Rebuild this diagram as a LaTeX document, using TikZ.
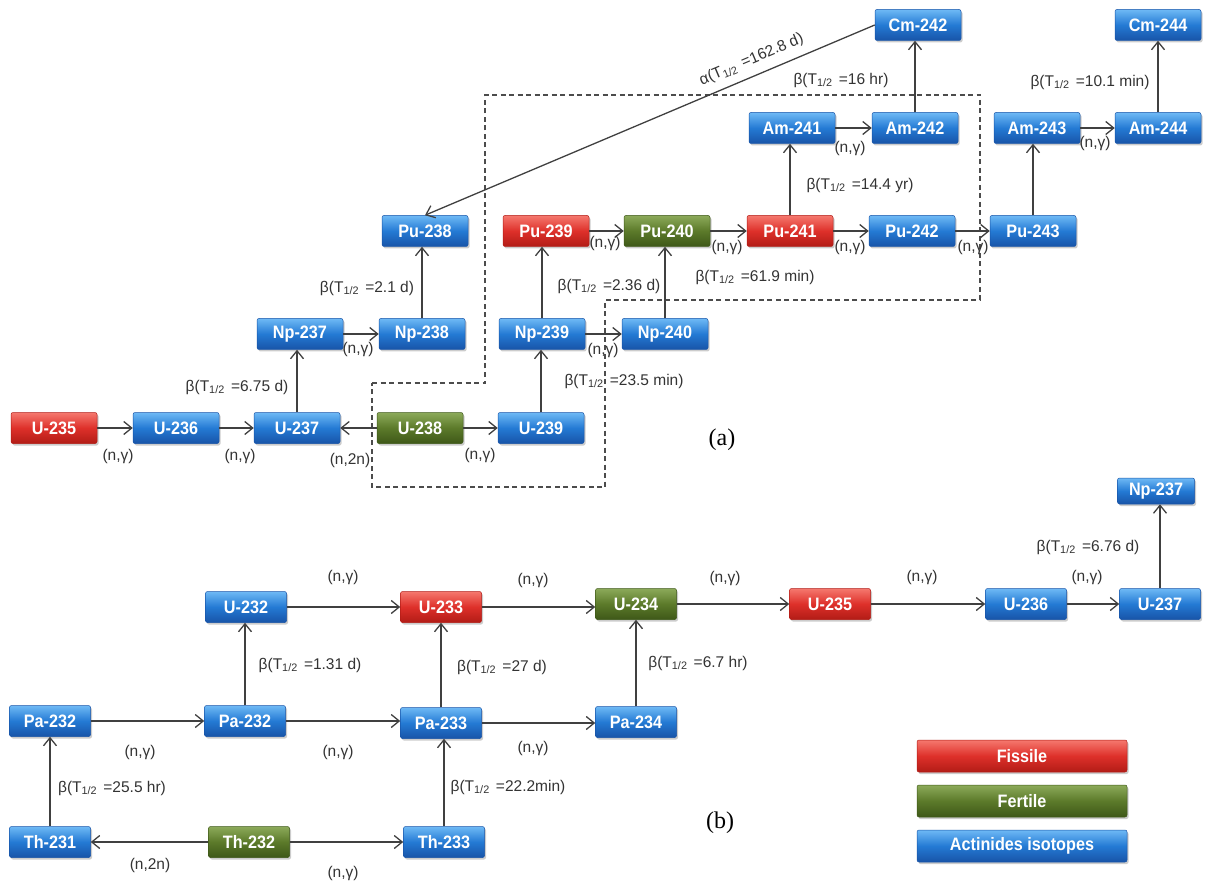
\documentclass[tikz,border=0pt]{standalone}
\usepackage{fontspec}
\setmainfont{Liberation Sans}
\newfontfamily\isofont[FakeStretch=0.9]{Liberation Sans}
\newfontfamily\tagfont{Liberation Serif}
\usetikzlibrary{arrows.meta,shadows}

\definecolor{redT}{RGB}{245,120,110}
\definecolor{redM}{RGB}{222,48,42}
\definecolor{redB}{RGB}{178,28,22}
\definecolor{grnT}{RGB}{140,170,90}
\definecolor{grnM}{RGB}{92,122,42}
\definecolor{grnB}{RGB}{62,88,24}
\definecolor{bluT}{RGB}{110,185,245}
\definecolor{bluM}{RGB}{36,122,212}
\definecolor{bluB}{RGB}{24,84,168}

\newcommand{\halflife}[2]{#1(T\textsubscript{1/2}\hspace{0.4em}=#2)}

\begin{document}
\begin{tikzpicture}[x=1pt,y=-1pt,
					iso/.style={rounded corners=2pt,minimum width=86pt,minimum height=31pt,inner sep=0pt,
						text=white,font=\isofont\bfseries\fontsize{18}{18}\selectfont,
						drop shadow={opacity=0.4,shadow xshift=1.5pt,shadow yshift=-2pt}},
					actinide/.style={iso,draw=bluB,line width=0.5pt,top color=bluT,bottom color=bluB,middle color=bluM},
					fissile/.style={iso,draw=redB,line width=0.5pt,top color=redT,bottom color=redB,middle color=redM},
					fertile/.style={iso,draw=grnB,line width=0.5pt,top color=grnT,bottom color=grnB,middle color=grnM},
					narrow/.style={minimum width=81pt},
					arr/.style={-{Straight Barb[length=8pt,width=13pt]},line width=1.3pt,draw=black!75},
					lbl/.style={inner sep=0pt,text=black!80,font=\fontsize{15.5}{17}\selectfont},
					tag/.style={inner sep=0pt,font=\tagfont\fontsize{24}{26}\selectfont}]
	\useasboundingbox (0,0) rectangle (1207,882);

	\draw[line width=1.3pt,black!70,dash pattern=on 5pt off 3.5pt] (372,383) -- (485,383) -- (485,95) -- (980,95) -- (980,300)
		-- (605,300) -- (605,487) -- (372,487) -- cycle;

	\node[fissile] (u235a) at (54,428) {U-235};
	\node[actinide] (u236a) at (176,428) {U-236};
	\node[actinide] (u237a) at (297,428) {U-237};
	\node[fertile] (u238) at (420,428) {U-238};
	\node[actinide] (u239) at (541,428) {U-239};
	\node[actinide] (np237a) at (300,334) {Np-237};
	\node[actinide] (np238) at (422,334) {Np-238};
	\node[actinide] (np239) at (542,334) {Np-239};
	\node[actinide] (np240) at (665,334) {Np-240};
	\node[actinide] (pu238) at (425,231) {Pu-238};
	\node[fissile] (pu239) at (546,231) {Pu-239};
	\node[fertile] (pu240) at (667,231) {Pu-240};
	\node[fissile] (pu241) at (790,231) {Pu-241};
	\node[actinide] (pu242) at (912,231) {Pu-242};
	\node[actinide] (pu243) at (1033,231) {Pu-243};
	\node[actinide] (am241) at (792,128) {Am-241};
	\node[actinide] (am242) at (915,128) {Am-242};
	\node[actinide] (am243) at (1037,128) {Am-243};
	\node[actinide] (am244) at (1158,128) {Am-244};
	\node[actinide] (cm242) at (918,25) {Cm-242};
	\node[actinide] (cm244) at (1158,25) {Cm-244};

	\draw[arr] (u235a.east) -- (u235a.east -| u236a.west);
	\draw[arr] (u236a.east) -- (u236a.east -| u237a.west);
	\draw[arr] (u238.west) -- (u238.west -| u237a.east);
	\draw[arr] (u238.east) -- (u238.east -| u239.west);
	\draw[arr] (u237a.north) -- (u237a.north |- np237a.south);
	\draw[arr] (u239.north) -- (u239.north |- np239.south);
	\draw[arr] (np237a.east) -- (np237a.east -| np238.west);
	\draw[arr] (np239.east) -- (np239.east -| np240.west);
	\draw[arr] (np238.north) -- (np238.north |- pu238.south);
	\draw[arr] (np239.north) -- (np239.north |- pu239.south);
	\draw[arr] (np240.north) -- (np240.north |- pu240.south);
	\draw[arr] (pu239.east) -- (pu239.east -| pu240.west);
	\draw[arr] (pu240.east) -- (pu240.east -| pu241.west);
	\draw[arr] (pu241.east) -- (pu241.east -| pu242.west);
	\draw[arr] (pu242.east) -- (pu242.east -| pu243.west);
	\draw[arr] (pu241.north) -- (pu241.north |- am241.south);
	\draw[arr] (pu243.north) -- (pu243.north |- am243.south);
	\draw[arr] (am241.east) -- (am241.east -| am242.west);
	\draw[arr] (am243.east) -- (am243.east -| am244.west);
	\draw[arr] (am242.north) -- (am242.north |- cm242.south);
	\draw[arr] (am244.north) -- (am244.north |- cm244.south);
	\draw[arr] (cm242.west) -- node[lbl,sloped,pos=0.26,above=8pt] (alpha) {\halflife{α}{162.8 d}} (pu238.north);

	\node[lbl] (r1) at (118,456) {(n,γ)};
	\node[lbl] (r2) at (240,456) {(n,γ)};
	\node[lbl] (r3) at (350,460) {(n,2n)};
	\node[lbl] (r4) at (480,455) {(n,γ)};
	\node[lbl] (r5) at (358,349) {(n,γ)};
	\node[lbl] (r6) at (603,350) {(n,γ)};
	\node[lbl] (r7) at (605,243) {(n,γ)};
	\node[lbl] (r8) at (727,247) {(n,γ)};
	\node[lbl] (r9) at (850,247) {(n,γ)};
	\node[lbl] (r10) at (973,247) {(n,γ)};
	\node[lbl] (r11) at (850,148) {(n,γ)};
	\node[lbl] (r12) at (1095,143) {(n,γ)};
	\node[lbl] (d1) at (237,387) {\halflife{β}{6.75 d}};
	\node[lbl] (d2) at (367,288) {\halflife{β}{2.1 d}};
	\node[lbl] (d3) at (624,381) {\halflife{β}{23.5 min}};
	\node[lbl] (d4) at (609,286) {\halflife{β}{2.36 d}};
	\node[lbl] (d5) at (755,277) {\halflife{β}{61.9 min}};
	\node[lbl] (d6) at (860,185) {\halflife{β}{14.4 yr}};
	\node[lbl] (d7) at (841,80) {\halflife{β}{16 hr}};
	\node[lbl] (d8) at (1090,82) {\halflife{β}{10.1 min}};
	\node[tag] (taga) at (722,440) {(a)};

	\node[actinide,narrow] (u232) at (246,607) {U-232};
	\node[fissile,narrow] (u233) at (441,607) {U-233};
	\node[fertile,narrow] (u234) at (636,604) {U-234};
	\node[fissile,narrow] (u235b) at (830,604) {U-235};
	\node[actinide,narrow] (u236b) at (1026,604) {U-236};
	\node[actinide,narrow] (u237b) at (1160,604) {U-237};
	\node[actinide,minimum width=77pt,minimum height=26pt] (np237b) at (1156,491) {Np-237};
	\node[actinide,narrow] (pa232a) at (50,721) {Pa-232};
	\node[actinide,narrow] (pa232b) at (245,721) {Pa-232};
	\node[actinide,narrow] (pa233) at (441,723) {Pa-233};
	\node[actinide,narrow] (pa234) at (636,722) {Pa-234};
	\node[actinide,narrow] (th231) at (50,842) {Th-231};
	\node[fertile,narrow] (th232) at (249,842) {Th-232};
	\node[actinide,narrow] (th233) at (444,842) {Th-233};

	\draw[arr] (u232.east) -- (u232.east -| u233.west);
	\draw[arr] (u233.east) -- (u233.east -| u234.west);
	\draw[arr] (u234.east) -- (u234.east -| u235b.west);
	\draw[arr] (u235b.east) -- (u235b.east -| u236b.west);
	\draw[arr] (u236b.east) -- (u236b.east -| u237b.west);
	\draw[arr] (u237b.north) -- (u237b.north |- np237b.south);
	\draw[arr] (pa232a.east) -- (pa232a.east -| pa232b.west);
	\draw[arr] (pa232b.east) -- (pa232b.east -| pa233.west);
	\draw[arr] (pa233.east) -- (pa233.east -| pa234.west);
	\draw[arr] (pa232b.north) -- (pa232b.north |- u232.south);
	\draw[arr] (pa233.north) -- (pa233.north |- u233.south);
	\draw[arr] (pa234.north) -- (pa234.north |- u234.south);
	\draw[arr] (th231.north) -- (th231.north |- pa232a.south);
	\draw[arr] (th233.north) -- (th233.north |- pa233.south);
	\draw[arr] (th232.west) -- (th232.west -| th231.east);
	\draw[arr] (th232.east) -- (th232.east -| th233.west);

	\node[lbl] (s1) at (343,577) {(n,γ)};
	\node[lbl] (s2) at (533,580) {(n,γ)};
	\node[lbl] (s3) at (725,578) {(n,γ)};
	\node[lbl] (s4) at (922,577) {(n,γ)};
	\node[lbl] (s5) at (1087,577) {(n,γ)};
	\node[lbl] (s6) at (140,752) {(n,γ)};
	\node[lbl] (s7) at (338,752) {(n,γ)};
	\node[lbl] (s8) at (533,748) {(n,γ)};
	\node[lbl] (s9) at (150,865) {(n,2n)};
	\node[lbl] (s10) at (343,873) {(n,γ)};
	\node[lbl] (e1) at (1088,547) {\halflife{β}{6.76 d}};
	\node[lbl] (e2) at (310,665) {\halflife{β}{1.31 d}};
	\node[lbl] (e3) at (502,667) {\halflife{β}{27 d}};
	\node[lbl] (e4) at (698,663) {\halflife{β}{6.7 hr}};
	\node[lbl] (e5) at (112,788) {\halflife{β}{25.5 hr}};
	\node[lbl] (e6) at (508,787) {\halflife{β}{22.2min}};
	\node[tag] (tagb) at (720,823) {(b)};

	\node[fissile,minimum width=210pt,minimum height=32pt] (keyfis) at (1022,756) {Fissile};
	\node[fertile,minimum width=210pt,minimum height=32pt] (keyfer) at (1022,801) {Fertile};
	\node[actinide,minimum width=210pt,minimum height=32pt] (keyact) at (1022,846) {Actinides isotopes};
\end{tikzpicture}
\end{document}
